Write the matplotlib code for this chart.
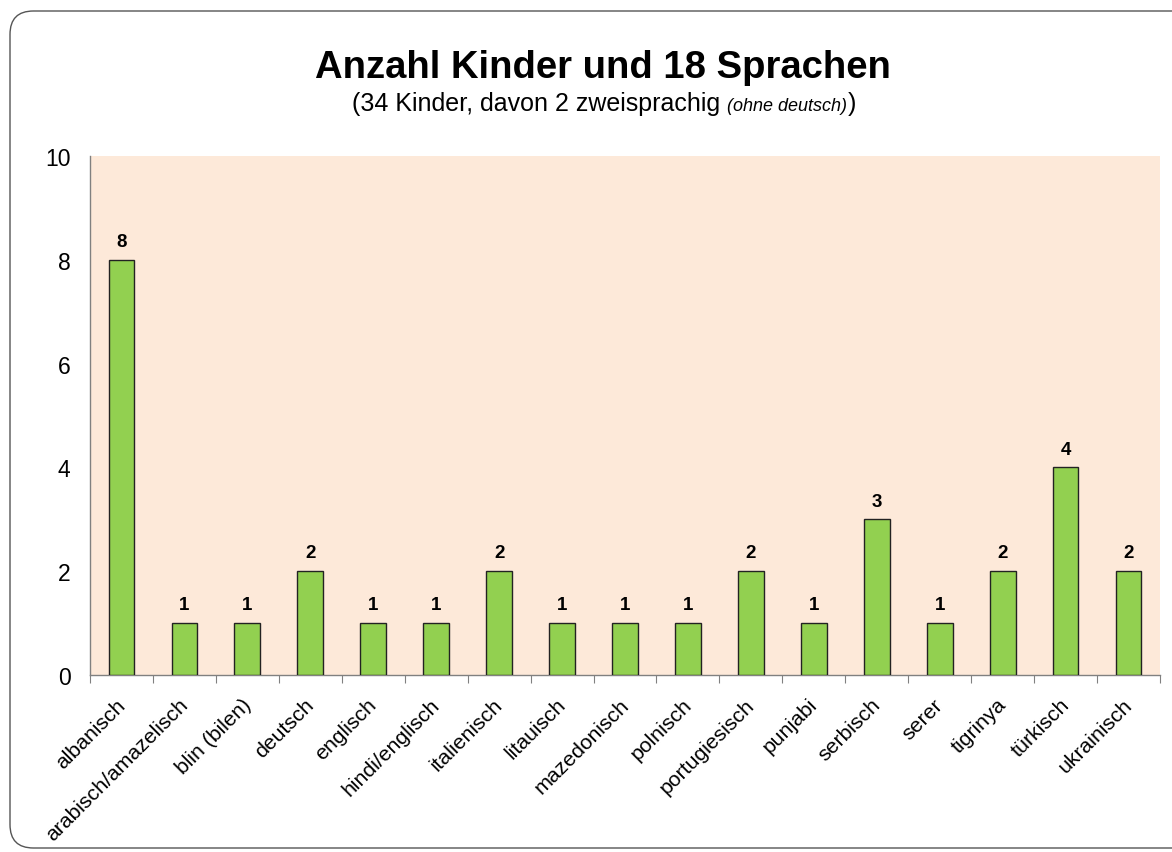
import matplotlib
matplotlib.use("Agg")
import matplotlib.pyplot as plt
from matplotlib.patches import FancyBboxPatch
from matplotlib.offsetbox import TextArea, HPacker, AnchoredOffsetbox
from matplotlib.transforms import ScaledTranslation

plt.rcParams['font.family'] = ['Liberation Sans', 'DejaVu Sans']

languages = ["albanisch", "arabisch/amazelisch", "blin (bilen)", "deutsch", "englisch",
             "hindi/englisch", "italienisch", "litauisch", "mazedonisch", "polnisch",
             "portugiesisch", "punjabi", "serbisch", "serer", "tigrinya", "türkisch",
             "ukrainisch"]
counts = [8, 1, 1, 2, 1, 1, 2, 1, 1, 1, 2, 1, 3, 1, 2, 4, 2]
yticks = [0, 2, 4, 6, 8, 10]

title = "Anzahl Kinder und 18 Sprachen"
sub_main = "(34 Kinder, davon 2 zweisprachig "
sub_italic = "(ohne deutsch)"
sub_end = ")"

W, H = 1172, 853
fig = plt.figure(figsize=(W / 100, H / 100), dpi=100)
fig.patch.set_facecolor("white")

# rounded outer frame
frame = FancyBboxPatch((10 / W, 4 / H), (W + 40) / W, (H - 16) / H,
                       boxstyle="round,pad=0,rounding_size=0.02",
                       transform=fig.transFigure, facecolor="white",
                       edgecolor="#555555", linewidth=1.0, zorder=-10,
                       mutation_aspect=W / H)
fig.patches.append(frame)

ax = fig.add_axes([90 / W, 1 - 676 / H, (1160 - 90) / W, (676 - 157) / H])
ax.set_facecolor("#FDE9D9")

x = list(range(len(languages)))
ax.bar(x, counts, width=0.41, color="#92D050", edgecolor="#222222", linewidth=1.0, zorder=3)
for xi, c in zip(x, counts):
    ax.annotate(str(c), (xi, c), xytext=(0, 7), textcoords="offset points",
                ha="center", va="bottom", fontsize=13.5, fontweight="bold")

ax.set_xlim(-0.5, len(languages) - 0.5)
ax.set_ylim(0, 10)
ax.set_yticks(yticks)
ax.set_yticklabels([str(v) for v in yticks], fontsize=16.5)
ax.tick_params(axis="y", length=0, pad=14)

ax.set_xticks([i - 0.5 for i in range(len(languages) + 1)], minor=False)
ax.set_xticklabels([])
ax.tick_params(axis="x", which="major", length=6, color="#808080", direction="out")
ax.set_xticks(x, minor=True)
ax.set_xticklabels(languages, minor=True, rotation=45, ha="right", va="top",
                   rotation_mode="anchor", fontsize=15.3)
ax.tick_params(axis="x", which="minor", length=0, pad=12)
shift = ScaledTranslation(-6 / 100, -3 / 100, fig.dpi_scale_trans)
for lbl in ax.get_xticklabels(minor=True):
    lbl.set_transform(lbl.get_transform() + shift)

for s in ["top", "right"]:
    ax.spines[s].set_visible(False)
for s in ["left", "bottom"]:
    ax.spines[s].set_color("#808080")
    ax.spines[s].set_linewidth(1.0)

fig.text(603 / W, 1 - 78 / H, title, ha="center", va="baseline",
         fontsize=27.5, fontweight="bold")

t1 = TextArea(sub_main, textprops=dict(fontsize=18))
t2 = TextArea(sub_italic, textprops=dict(fontsize=13, style="italic"))
t3 = TextArea(sub_end, textprops=dict(fontsize=18))
pack = HPacker(children=[t1, t2, t3], align="baseline", pad=0, sep=0)
anch = AnchoredOffsetbox(loc="center", child=pack, pad=0, frameon=False,
                         bbox_to_anchor=(604 / W, 1 - 104 / H),
                         bbox_transform=fig.transFigure, borderpad=0)
fig.add_artist(anch)

fig.savefig("out.png", dpi=100)
